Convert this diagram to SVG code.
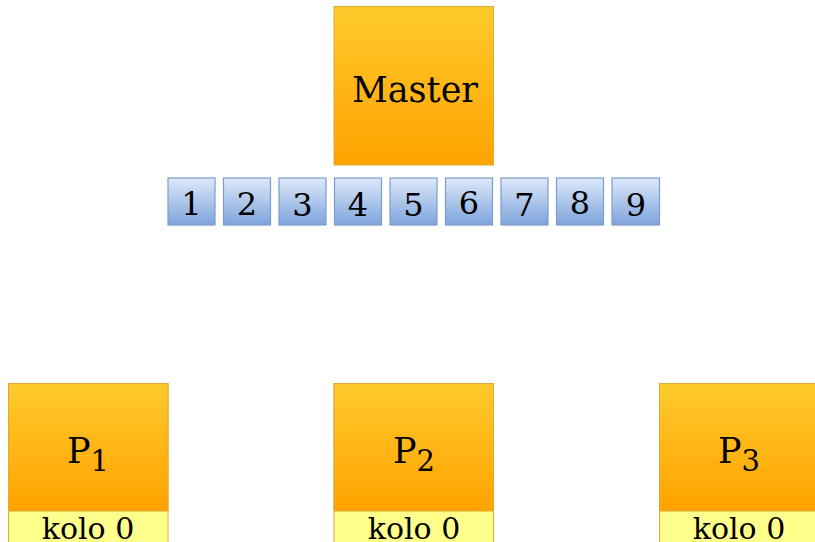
<svg xmlns="http://www.w3.org/2000/svg" width="815" height="542" viewBox="0 0 815 542">
<defs>
<linearGradient id="og" x1="0" y1="0" x2="0" y2="1">
<stop offset="0" stop-color="#FFCA2C"/>
<stop offset="1" stop-color="#FFA300"/>
</linearGradient>
<linearGradient id="bg" x1="0" y1="0" x2="0" y2="1">
<stop offset="0" stop-color="#DDE9F9"/>
<stop offset="1" stop-color="#7EA4DC"/>
</linearGradient>
</defs>
<style>
.org{fill:url(#og);stroke:#DDAA33;stroke-width:1}
.yel{fill:#FFFF8C;stroke:#DDAA33;stroke-width:1}
.blu{fill:url(#bg);stroke:#7C9DCF;stroke-width:1.2}
text{font-family:"DejaVu Serif","Liberation Serif",serif;fill:#000;text-anchor:middle}
.big{font-size:35px}
.num{font-size:32px}
.kolo{font-size:30px}
</style>
<rect width="815" height="542" fill="#fff"/>
<g id="master">
<rect class="org" x="334" y="6.5" width="159.5" height="158.5"/>
<text class="big" x="415" y="102">Master</text>
</g>
<g id="queue">
<rect class="blu" x="168" y="178" width="47" height="47"/><text class="num" x="191.5" y="215">1</text>
<rect class="blu" x="223.5" y="178" width="47" height="47"/><text class="num" x="247" y="215">2</text>
<rect class="blu" x="279" y="178" width="47" height="47"/><text class="num" x="302.5" y="216">3</text>
<rect class="blu" x="334.5" y="178" width="47" height="47"/><text class="num" x="358" y="216">4</text>
<rect class="blu" x="390" y="178" width="47" height="47"/><text class="num" x="413.5" y="216">5</text>
<rect class="blu" x="445.5" y="178" width="47" height="47"/><text class="num" x="469" y="214">6</text>
<rect class="blu" x="501" y="178" width="47" height="47"/><text class="num" x="524.5" y="216">7</text>
<rect class="blu" x="556.5" y="178" width="47" height="47"/><text class="num" x="580" y="214">8</text>
<rect class="blu" x="612" y="178" width="47.5" height="47"/><text class="num" x="636" y="216">9</text>
</g>
<g id="p1">
<rect class="yel" x="8.5" y="383.5" width="159.5" height="170"/>
<rect class="org" x="8.5" y="383.5" width="159.5" height="127.5"/>
<text class="big" x="88" y="463">P<tspan font-size="29" dy="8">1</tspan></text>
<text class="kolo" x="88" y="539">kolo 0</text>
</g>
<g id="p2">
<rect class="yel" x="334" y="383.5" width="159.5" height="170"/>
<rect class="org" x="334" y="383.5" width="159.5" height="127.5"/>
<text class="big" x="414" y="463">P<tspan font-size="29" dy="8">2</tspan></text>
<text class="kolo" x="414" y="539">kolo 0</text>
</g>
<g id="p3">
<rect class="yel" x="659.5" y="383.5" width="159.5" height="170"/>
<rect class="org" x="659.5" y="383.5" width="159.5" height="127.5"/>
<text class="big" x="739" y="463">P<tspan font-size="29" dy="8">3</tspan></text>
<text class="kolo" x="739" y="539">kolo 0</text>
</g>
<g id="connectors"></g>
</svg>
